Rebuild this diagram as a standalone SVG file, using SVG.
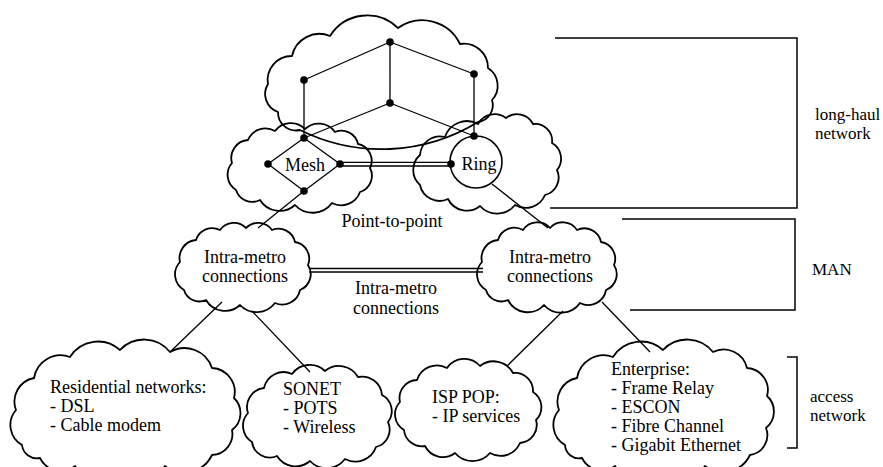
<svg xmlns="http://www.w3.org/2000/svg" width="883" height="467" viewBox="0 0 883 467" font-family="'Liberation Serif','Times New Roman','DejaVu Serif',serif">
<style>
.cloud{fill:none;stroke:#000;stroke-width:1.8;stroke-linejoin:round}
.ln{fill:none;stroke:#000;stroke-width:1.3}
.br{fill:none;stroke:#000;stroke-width:1.5}
.dot{fill:#000}
text{font-family:"Liberation Serif","Times New Roman","DejaVu Serif",serif;font-size:18px;fill:#000}
.c{text-anchor:middle}
.side{font-size:17px}
</style>
<rect width="883" height="467" fill="#fff"/>
<g id="longhaul-cloud">
<path class="cloud" d="M278,112 A19,19 0 0 1 268,84 A24,24 0 0 1 292,56 A28,28 0 0 1 330,36 A44,44 0 0 1 398,28 A42,42 0 0 1 460,44 A24,24 0 0 1 488,68 A21,21 0 0 1 492,100 A17,17 0 0 1 478,122 A184,184 0 0 1 300,130 A18,18 0 0 1 278,112 Z"/>
</g>
<g id="mesh">
<path class="cloud" d="M236,190 A18,18 0 0 1 232,163 A18,18 0 0 1 248,140 A19,19 0 0 1 275,131 A20,20 0 0 1 305,129 A20,20 0 0 1 335,132 A17,17 0 0 1 358,144 A17,17 0 0 1 370,168 A17,17 0 0 1 360,192 A20,20 0 0 1 332,203 A24,24 0 0 1 295,205 A23,23 0 0 1 260,200 A17,17 0 0 1 236,190 Z"/>
<path class="ln" d="M304,138 L340,164 L304,191 L268,164 Z"/>
<text x="305" y="171" class="c">Mesh</text>
</g>
<g id="ring">
<path class="cloud" d="M420,185 A20,20 0 0 1 420,155 A20,20 0 0 1 445,137 A23,23 0 0 1 478,124 A19,19 0 0 1 506,118 A18,18 0 0 1 533,124 A17,17 0 0 1 552,143 A18,18 0 0 1 557,170 A18,18 0 0 1 545,195 A21,21 0 0 1 515,205 A23,23 0 0 1 480,206 A21,21 0 0 1 448,199 A20,20 0 0 1 420,185 Z"/>
<circle class="ln" cx="476" cy="162" r="26" style="stroke-width:1.6"/>
<text x="479" y="170" class="c">Ring</text>
</g>
<g id="metro-left">
<path class="cloud" d="M184,290 A18,18 0 0 1 180,262 A18,18 0 0 1 196,240 A17,17 0 0 1 220,230 A17,17 0 0 1 246,228 A17,17 0 0 1 272,230 A17,17 0 0 1 295,242 A17,17 0 0 1 308,265 A17,17 0 0 1 300,290 A18,18 0 0 1 275,303 A23,23 0 0 1 240,305 A22,22 0 0 1 206,300 A16,16 0 0 1 184,290 Z"/>
<text x="245" y="263" class="c">Intra-metro</text>
<text x="245" y="282" class="c">connections</text>
</g>
<g id="metro-right">
<path class="cloud" d="M486,290 A18,18 0 0 1 482,262 A18,18 0 0 1 498,240 A17,17 0 0 1 523,230 A17,17 0 0 1 550,228 A17,17 0 0 1 577,230 A17,17 0 0 1 601,242 A17,17 0 0 1 614,265 A17,17 0 0 1 606,290 A18,18 0 0 1 580,303 A23,23 0 0 1 544,305 A22,22 0 0 1 508,300 A16,16 0 0 1 486,290 Z"/>
<text x="550" y="263" class="c">Intra-metro</text>
<text x="550" y="282" class="c">connections</text>
</g>
<g id="residential">
<path class="cloud" d="M22,445 A23,23 0 0 1 16,410 A24,24 0 0 1 34,378 A27,27 0 0 1 70,357 A33,33 0 0 1 120,350 A33,33 0 0 1 170,352 A29,29 0 0 1 212,368 A24,24 0 0 1 234,398 A21,21 0 0 1 232,430 A21,21 0 0 1 212,455 A31,31 0 0 1 165,466 A29,29 0 0 1 120,470 A29,29 0 0 1 75,466 A23,23 0 0 1 40,458 A15,15 0 0 1 22,445 Z"/>
<text x="50" y="393">Residential networks:</text>
<text x="50" y="412">- DSL</text>
<text x="50" y="431">- Cable modem</text>
</g>
<g id="sonet">
<path class="cloud" d="M252,442 A19,19 0 0 1 248,413 A19,19 0 0 1 264,388 A20,20 0 0 1 292,374 A22,22 0 0 1 325,371 A22,22 0 0 1 358,377 A20,20 0 0 1 382,395 A18,18 0 0 1 388,422 A18,18 0 0 1 376,447 A22,22 0 0 1 345,459 A23,23 0 0 1 310,461 A22,22 0 0 1 277,456 A18,18 0 0 1 252,442 Z"/>
<text x="283" y="395">SONET</text>
<text x="283" y="414">- POTS</text>
<text x="283" y="433">- Wireless</text>
</g>
<g id="isp-pop">
<path class="cloud" d="M404,430 A18,18 0 0 1 400,402 A18,18 0 0 1 417,380 A21,21 0 0 1 447,368 A21,21 0 0 1 480,366 A22,22 0 0 1 513,373 A18,18 0 0 1 533,392 A18,18 0 0 1 536,420 A18,18 0 0 1 520,443 A21,21 0 0 1 490,453 A23,23 0 0 1 455,453 A20,20 0 0 1 425,446 A18,18 0 0 1 404,430 Z"/>
<text x="432" y="403">ISP POP:</text>
<text x="432" y="422">- IP services</text>
</g>
<g id="enterprise">
<path class="cloud" d="M565,445 A23,23 0 0 1 559,410 A24,24 0 0 1 577,378 A27,27 0 0 1 613,357 A33,33 0 0 1 663,350 A33,33 0 0 1 713,352 A24,24 0 0 1 747,368 A22,22 0 0 1 767,396 A21,21 0 0 1 766,428 A20,20 0 0 1 750,455 A30,30 0 0 1 705,466 A29,29 0 0 1 660,470 A29,29 0 0 1 615,466 A22,22 0 0 1 582,458 A14,14 0 0 1 565,445 Z"/>
<text x="611" y="375">Enterprise:</text>
<text x="611" y="394">- Frame Relay</text>
<text x="611" y="413">- ESCON</text>
<text x="611" y="432">- Fibre Channel</text>
<text x="611" y="451">- Gigabit Ethernet</text>
</g>
<g id="connectors">
<path class="ln" d="M390,42 L304,80 M390,42 L474,74 M390,42 L390,103 M304,80 L304,138 M474,74 L474,136 M390,103 L304,138 M390,103 L474,136"/>
<path class="ln" d="M340,162.3 L451,162.3 M340,166 L451,166"/>
<path class="ln" d="M304,191 L258,228 M492,184 L548,228"/>
<path class="ln" d="M309,268.5 L483,268.5 M309,272 L483,272"/>
<path class="ln" d="M222,302 L170,352 M252,311 L310,372 M563,311 L507,366 M602,302 L650,352"/>
<circle class="dot" cx="390" cy="42" r="3.8"/>
<circle class="dot" cx="304" cy="80" r="3.8"/>
<circle class="dot" cx="474" cy="74" r="3.8"/>
<circle class="dot" cx="390" cy="103" r="3.8"/>
<circle class="dot" cx="304" cy="138" r="3.8"/>
<circle class="dot" cx="474" cy="136" r="3.8"/>
<circle class="dot" cx="268" cy="164" r="3.8"/>
<circle class="dot" cx="340" cy="164" r="3.8"/>
<circle class="dot" cx="304" cy="191" r="3.8"/>
<circle class="dot" cx="451" cy="164" r="3.8"/>
</g>
<g id="labels">
<text x="392" y="227" class="c">Point-to-point</text>
<text x="396" y="294" class="c">Intra-metro</text>
<text x="396" y="314" class="c">connections</text>
<path class="br" d="M555,38 L797,38 L797,208 L550,208"/>
<path class="br" d="M622,219 L795,219 L795,310 L630,310"/>
<path class="br" d="M787,357 L797,357 L797,448 L787,448"/>
<text x="815" y="120" class="side">long-haul</text>
<text x="815" y="139" class="side">network</text>
<text x="812" y="275" class="side">MAN</text>
<text x="810" y="402" class="side">access</text>
<text x="810" y="421" class="side">network</text>
</g>
</svg>
